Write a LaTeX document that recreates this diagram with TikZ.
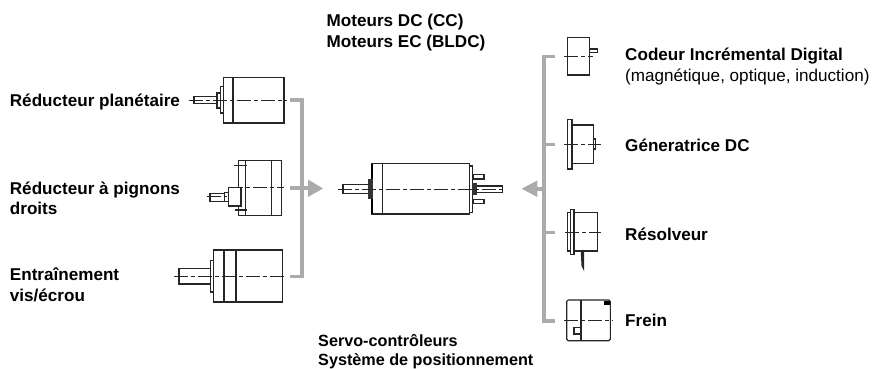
\documentclass[tikz,border=0pt]{standalone}
\usepackage{fontspec}
\setmainfont{Liberation Sans}
\tikzset{
 part/.style={draw=black!85,line width=1.1pt,fill=white},
 plainline/.style={draw=black!85,line width=1.1pt},
 axis/.style={draw=black!85,line width=0.8pt,dash pattern=on 14pt off 3pt on 4pt off 3pt},
 rail/.style={draw=black!33,line width=3.6pt},
 tip/.style={fill=black!33,draw=none},
 lab/.style={font=\fontsize{17.1}{20}\selectfont\bfseries,anchor=base west,inner sep=0pt},
 labs/.style={font=\fontsize{16.2}{20}\selectfont\bfseries,anchor=base west,inner sep=0pt},
 labr/.style={font=\fontsize{17.1}{20}\selectfont,anchor=base west,inner sep=0pt},
 dark/.style={fill=black!80,draw=black!80,line width=0.5pt}
}
\begin{document}
\begin{tikzpicture}[x=1pt,y=-1pt]
\useasboundingbox (0,0) rectangle (872,369);
% labels
\node[lab] (t1) at (326.5,26.7) {Moteurs DC (CC)};
\node[lab] (t2) at (326.5,47.3) {Moteurs EC (BLDC)};
\node[lab] (l1) at (9.7,106.7) {Réducteur planétaire};
\node[lab] (l2) at (9.7,194) {Réducteur à pignons};
\node[lab] (l2b) at (9.7,214) {droits};
\node[lab] (l3) at (9.7,280) {Entraînement};
\node[lab] (l3b) at (9.7,301.7) {vis/écrou};
\node[lab] (r1) at (625,60.7) {Codeur Incrémental Digital};
\node[labr] (r1b) at (625,81.7) {(magnétique, optique, induction)};
\node[lab] (r2) at (625,151) {Géneratrice DC};
\node[lab] (r3) at (625,240) {Résolveur};
\node[lab] (r4) at (625,326) {Frein};
\node[labs] (b1) at (318,346) {Servo-contrôleurs};
\node[labs] (b2) at (318,365.3) {Système de positionnement};
% grey rails
\coordinate (la) at (290,100); \coordinate (lb) at (290,276.5); \coordinate (lm) at (290,188);
\coordinate (lc) at (302,100); \coordinate (ld) at (302,276.5);
\draw[rail,line join=miter] (la) -- (lc) -- (ld) -- (lb);
\draw[rail] (lm) -- (310,188);
\fill[tip] (308,179.5) -- (323,188.5) -- (308,197) -- cycle;
\coordinate (ra) at (555,56.7); \coordinate (rd) at (555,320.7);
\coordinate (rb) at (555,144.3); \coordinate (rc) at (555,232.3);
\draw[rail,line join=miter] (ra) -- (543.7,56.7) -- (543.7,320.7) -- (rd);
\draw[rail] (rb) -- (543.7,144.3);
\draw[rail] (rc) -- (543.7,232.3);
\draw[rail] (535,188.7) -- (543.7,188.7);
\fill[tip] (537.3,180.5) -- (521.7,188.7) -- (537.3,197) -- cycle;
% gear 1
\draw[part] (223.7,77.3) rectangle (284,123);
\draw[plainline] (233,77.3) -- (233,123);
\draw[part] (220.7,86.7) rectangle (223.7,113);
\draw[part] (217,93) rectangle (220.7,108);
\draw[part] (194,96.7) rectangle (217,103.5);
\draw[axis] (188.7,100.3) -- (287,100.3);
% gear 2
\draw[part] (238.7,160.3) rectangle (281.7,215.3);
\draw[plainline] (245.3,160.3) -- (245.3,215.3);
\draw[plainline] (271.7,160.3) -- (271.7,215.3);
\draw[plainline] (234,165.3) -- (247,165.3);
\draw[plainline] (235,210) -- (246.7,210);
\draw[part] (228.3,187.7) rectangle (241,206);
\draw[part] (224.5,192.7) rectangle (228.3,201.7);
\draw[part] (210,193.7) rectangle (224.5,201.7);
\draw[axis] (229,187.7) -- (284,187.7);
\draw[axis] (207,196.7) -- (227,196.7);
% gear 3
\draw[part] (213.3,250) rectangle (282.3,302);
\draw[plainline] (224,250) -- (224,302);
\draw[plainline] (236,250) -- (236,302);
\draw[part] (210.3,260.3) rectangle (213.3,292);
\draw[part] (179,268.3) rectangle (210.3,284);
\draw[axis] (174,276) -- (286.7,276);
% central motor
\draw[part] (372,163.3) rectangle (382.3,214);
\draw[black,line width=1.8pt] (372,164) -- (372,213.5);
\draw[part] (382.3,163.3) rectangle (469.7,214);
\draw[part] (469.7,166) rectangle (472.7,212.7);
\draw[part] (343,184.5) rectangle (369,193.3);
\draw[dark] (368.7,179.3) rectangle (372,198.3);
\draw[part] (476.7,186) rectangle (502.7,192.3);
\draw[dark] (472.7,183) rectangle (476.7,194.3);
\draw[part] (473.3,174.7) rectangle (484,179);
\draw[part] (473.3,199.3) rectangle (484,203.3);
\draw[axis] (338.3,189) -- (506,189);
% encoder
\draw[part] (567.3,37.7) rectangle (589.3,75);
\draw[part] (589.3,49) rectangle (597.7,52.3);
\draw[axis] (564,56.3) -- (593.3,56.3);
% generator
\draw[part] (572,125) rectangle (593.3,163.3);
\draw[part] (567.3,119.3) rectangle (572,169);
\draw[part] (593.3,139) rectangle (595.7,149);
\draw[axis] (564,144.3) -- (600.7,144.3);
% resolver
\draw[part] (567.3,212.7) rectangle (597.7,251);
\draw[part] (570.7,209.3) rectangle (574,254.3);
\fill[black!85] (580.7,251) -- (584,251) -- (584,271) -- (581.5,266) -- cycle;
\draw[axis] (565,232.3) -- (600.7,232.3);
% brake
\draw[part,rounded corners=1.5pt] (566.7,300) rectangle (610.3,340.7);
\draw[plainline] (581,300) -- (581,340.7);
\fill[black] (604,300.5) rectangle (610,305);
\draw[black!85,line width=1.6pt] (581,327.3) -- (574,327.3) -- (574,333.7) -- (581,333.7);
\draw[axis] (564.3,320) -- (613,320);
\end{tikzpicture}
\end{document}
